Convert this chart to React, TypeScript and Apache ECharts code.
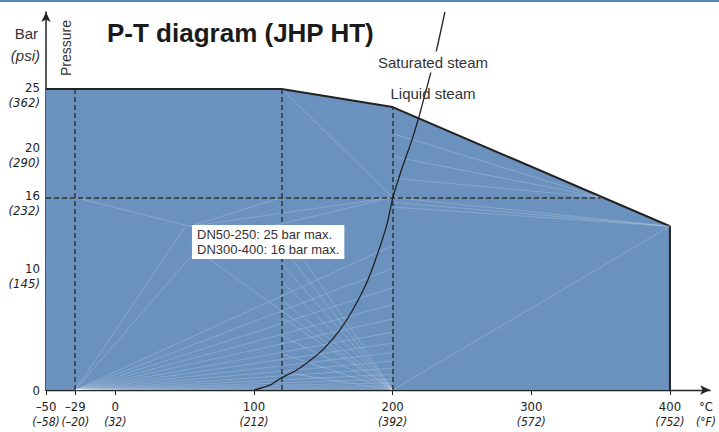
import React, { useEffect, useRef } from "react";
import * as echarts from "echarts";

// ---- data ----
const xTickValues = [-50, 0, 100, 200, 300, 400];
const xTickFahrenheit = ["(–58)", "(32)", "(212)", "(392)", "(572)", "(752)"];
const xExtraTickValues = [-29];
const xExtraTickFahrenheit = ["(–20)"];
const xUnitValue = 426;
const yLabelValues = [0, 10, 16, 20, 25];
const yLabelPsi = ["", "(145)", "(232)", "(290)", "(362)"];
const yTickValues = [10, 20];

const envelopeT = [-50, 120, 200, 400, 400];
const envelopeP = [25, 25, 23.5, 13.6, 0];

const satT = [100, 112, 119.5, 130, 140, 151, 162, 171, 182, 190, 196, 200, 207, 214, 219, 226, 232, 237.7];
const satP = [0, 0.42, 1.0, 1.6, 2.4, 3.5, 5.0, 6.6, 9.1, 11.6, 13.8, 15.9, 18.5, 20.8, 22.7, 25.7, 28.4, 31.4];

// dashed reference lines [t1, p1, t2, p2]
const dashedLines = [
  [-29, 0, -29, 25],
  [120, 0, 120, 25],
  [200, 0, 200, 23.5],
  [-50, 16, 350, 16],
];

// faint seam lines inside the envelope [t1, p1, t2, p2]
const seamLines = [
  [-29, 0, 200, 0.15], [-29, 0, 200, 0.35], [-29, 0, 200, 0.6], [-29, 0, 200, 0.9],
  [-29, 0, 200, 1.3], [-29, 0, 200, 1.8], [-29, 0, 200, 2.4], [-29, 0, 200, 3.1],
  [-29, 0, 200, 3.9], [-29, 0, 200, 4.8], [-29, 0, 200, 5.9], [-29, 0, 200, 7.1],
  [-29, 0, 200, 8.5], [-29, 0, 200, 10.1], [-29, 0, 200, 12],
  [-29, 0, 50, 13.5], [-29, 0, 56, 11.3],
  [-29, 16, 54, 13.6], [54, 13.6, 120, 16],
  [120, 25, 200, 16],
  [200, 0, 120, 1.5], [200, 0, 120, 3], [200, 0, 120, 4.5], [200, 0, 120, 6],
  [200, 0, 120, 7.5], [200, 0, 120, 9], [200, 0, 120, 10.5], [200, 0, 120, 12],
  [200, 0, 120, 13.5], [200, 0, 60, 11.5],
  [54, 12, 200, 16], [54, 13.6, 200, 16],
  [200, 21.3, 350, 16], [200, 19.4, 350, 16], [200, 17.6, 350, 16],
  [200, 16, 400, 13.6], [200, 15.6, 400, 13.6], [200, 15.2, 400, 13.6],
  [400, 13.6, 200, 0],
];

const FILL = "#6b92bf";
const INK = "#222";
const NARROW = "'Liberation Sans Narrow', 'DejaVu Sans Condensed', sans-serif";
const SANS = "'Liberation Sans', Arial, sans-serif";

export default function App() {
  const ref = useRef<HTMLDivElement>(null);

  useEffect(() => {
    if (!ref.current) return;
    const chart = echarts.init(ref.current, undefined, { renderer: "svg" });

    const yRich = {
      c: { fontFamily: NARROW, fontSize: 13, color: INK, lineHeight: 15 },
      f: { fontFamily: NARROW, fontSize: 13, fontStyle: "italic", color: INK, lineHeight: 15 },
      s: { fontSize: 10, lineHeight: 12 },
    };
    const xRich = {
      c: { fontFamily: NARROW, fontSize: 13, color: INK, lineHeight: 15 },
      f: { fontFamily: NARROW, fontSize: 12, fontStyle: "italic", color: INK, lineHeight: 15 },
    };
    const fmtC = (v: number) => (v < 0 ? "–" + Math.abs(v) : String(v));
    const gridBox = { left: 46, right: 4, top: 12, bottom: 42, containLabel: false };

    const option = {
      animation: false,
      grid: [gridBox, { ...gridBox }],
      xAxis: [
        {
          type: "value",
          gridIndex: 0,
          min: -50,
          max: 429,
          splitLine: { show: false },
          axisLine: {
            show: true,
            onZero: false,
            symbol: ["none", "arrow"],
            symbolSize: [7, 10],
            lineStyle: { color: INK, width: 1.3 },
          },
          axisTick: {
            show: true,
            customValues: xTickValues,
            length: 5,
            lineStyle: { color: INK, width: 1 },
          },
          axisLabel: {
            customValues: [...xTickValues, xUnitValue],
            showMinLabel: true,
            showMaxLabel: true,
            hideOverlap: false,
            margin: 9,
            rich: xRich,
            formatter: (v: number) => {
              if (v === xUnitValue) return "{c|°C}\n{f|(°F)}";
              const i = xTickValues.indexOf(v);
              return `{c|${fmtC(v)}}\n{f|${xTickFahrenheit[i]}}`;
            },
          },
        },
        {
          type: "value",
          gridIndex: 1,
          min: -50,
          max: 429,
          splitLine: { show: false },
          axisLine: { show: false, onZero: false },
          axisTick: {
            show: true,
            customValues: xExtraTickValues,
            length: 5,
            lineStyle: { color: INK, width: 1 },
          },
          axisLabel: {
            customValues: xExtraTickValues,
            margin: 9,
            rich: xRich,
            formatter: (v: number) => {
              const i = xExtraTickValues.indexOf(v);
              return `{c|${fmtC(v)}}\n{f|${xExtraTickFahrenheit[i]}}`;
            },
          },
        },
      ],
      yAxis: [
        {
          type: "value",
          gridIndex: 0,
          min: 0,
          max: 31.4,
          splitLine: { show: false },
          axisLine: {
            show: true,
            onZero: false,
            symbol: ["none", "arrow"],
            symbolSize: [7, 10],
            lineStyle: { color: INK, width: 1.5 },
          },
          axisTick: {
            show: true,
            inside: true,
            customValues: yTickValues,
            length: 6,
            lineStyle: { color: INK, width: 1.2 },
          },
          axisLabel: {
            customValues: yLabelValues,
            showMinLabel: true,
            hideOverlap: false,
            margin: 6,
            align: "right",
            rich: yRich,
            formatter: (v: number) => {
              const i = yLabelValues.indexOf(v);
              if (!yLabelPsi[i]) return `{c|${v}}`;
              return `{s|}\n{c|${v}}\n{f|${yLabelPsi[i]}}`;
            },
          },
        },
        {
          type: "value",
          gridIndex: 1,
          min: 0,
          max: 31.4,
          show: false,
        },
      ],
      series: [
        {
          type: "line",
          data: envelopeT.map((t, i) => [t, envelopeP[i]]),
          symbol: "none",
          lineStyle: { color: INK, width: 2 },
          areaStyle: { color: FILL, opacity: 1 },
          z: 2,
          silent: true,
        },
        {
          type: "lines",
          coordinateSystem: "cartesian2d",
          data: seamLines.map((s) => ({ coords: [[s[0], s[1]], [s[2], s[3]]] })),
          lineStyle: { color: "#ffffff", opacity: 0.28, width: 0.7 },
          z: 3,
          silent: true,
        },
        {
          type: "lines",
          coordinateSystem: "cartesian2d",
          data: dashedLines.map((s) => ({ coords: [[s[0], s[1]], [s[2], s[3]]] })),
          lineStyle: { color: "#333", opacity: 1, width: 1.5, type: [5, 3] },
          z: 4,
          silent: true,
        },
        {
          type: "line",
          data: satT.map((t, i) => [t, satP[i]]),
          symbol: "none",
          smooth: 0.2,
          lineStyle: { color: INK, width: 1.3 },
          z: 5,
          silent: true,
        },
      ],
      graphic: [
        { type: "rect", z: 100, shape: { x: 0, y: 0, width: 719, height: 2 }, style: { fill: "#5b86b8" } },
        {
          type: "text", z: 100, x: 107, y: 33,
          style: { text: "P-T diagram (JHP HT)", font: `bold 26px ${SANS}`, fill: "#1a1a1a", align: "left", verticalAlign: "middle" },
        },
        {
          type: "text", z: 100, x: 38, y: 33,
          style: { text: "Bar", font: `15px ${SANS}`, fill: "#333", align: "right", verticalAlign: "middle" },
        },
        {
          type: "text", z: 100, x: 40, y: 55,
          style: { text: "(psi)", font: `italic 15px ${SANS}`, fill: "#333", align: "right", verticalAlign: "middle" },
        },
        {
          type: "text", z: 100, x: 66, y: 48, rotation: Math.PI / 2,
          style: { text: "Pressure", font: `14px ${SANS}`, fill: "#333", align: "center", verticalAlign: "middle" },
        },
        {
          type: "text", z: 100, x: 433, y: 62,
          style: {
            text: "Saturated steam", font: `15px ${SANS}`, fill: "#333", align: "center", verticalAlign: "middle",
            backgroundColor: "#fff", padding: [3, 2, 3, 2],
          },
        },
        {
          type: "text", z: 100, x: 433, y: 93,
          style: { text: "Liquid steam", font: `15px ${SANS}`, fill: "#333", align: "center", verticalAlign: "middle" },
        },
        {
          type: "text", z: 100, x: 192, y: 225,
          style: {
            text: "DN50-250: 25 bar max.\nDN300-400: 16 bar max.", font: `13px ${SANS}`, fill: "#333",
            align: "left", verticalAlign: "top", lineHeight: 15,
            backgroundColor: "#fff", padding: [2, 5, 2, 5],
          },
        },
      ],
    };

    chart.setOption(option as any);
    return () => chart.dispose();
  }, []);

  return (
    <div
      ref={ref}
      style={{ position: "fixed", left: 0, top: 0, width: 719, height: 432, background: "#fff" }}
    />
  );
}
